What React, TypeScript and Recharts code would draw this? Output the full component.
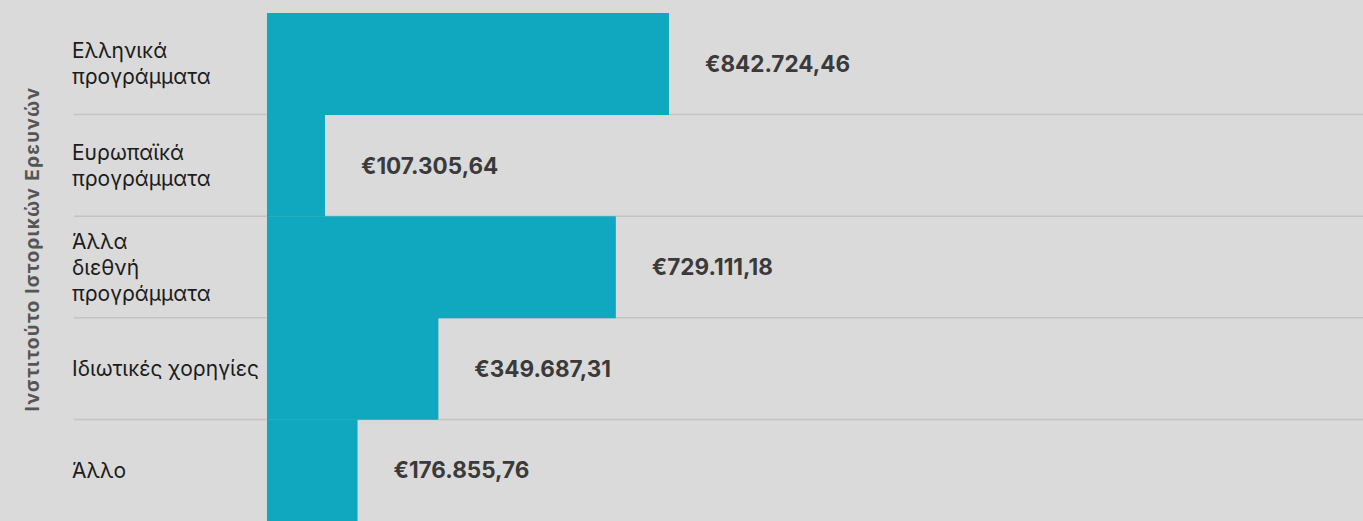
import { Bar, BarChart, CartesianGrid, LabelList, XAxis, YAxis } from "recharts";

const categories = [
  "Ελληνικά\nπρογράμματα",
  "Ευρωπαϊκά\nπρογράμματα",
  "Άλλα\nδιεθνή\nπρογράμματα",
  "Ιδιωτικές χορηγίες",
  "Άλλο",
];
const amounts = [842724.46, 107305.64, 729111.18, 349687.31, 176855.76];

const title = "Ινστιτούτο Ιστορικών Ερευνών";

// x scale: left edge of the row area and the (slightly negative) base the bars grow from
const X_DOMAIN: [number, number] = [-429280, 2326400];
const BAR_BASE = -16675;

const FONT = "Inter, 'Noto Sans', sans-serif";

const data = categories.map((name, i) => ({ name, value: amounts[i] }));

function euro(v: number) {
  const [int, dec] = v.toFixed(2).split(".");
  return "€" + int.replace(/\B(?=(\d{3})+(?!\d))/g, ".") + "," + dec;
}

function CategoryTick(props: any) {
  const { y, payload } = props;
  const x = 72;
  const lines = String(payload.value).split("\n");
  const lh = 26;
  const start = y - ((lines.length - 1) * lh) / 2;
  return (
    <text fontSize={21} fill="#1c1c1c" fontFamily={FONT}>
      {lines.map((l, i) => (
        <tspan key={i} x={x} y={start + i * lh} dominantBaseline="central">
          {l}
        </tspan>
      ))}
    </text>
  );
}

// separators sit on the band edges between rows
const rowEdges = ({ yAxis, offset }: any) => {
  if (yAxis && typeof yAxis.scale === "function") {
    return categories.slice(1).map((c) => yAxis.scale(c));
  }
  const band = offset.height / categories.length;
  return categories.slice(1).map((_, i) => offset.top + band * (i + 1));
};

export default function App() {
  return (
    <div
      style={{
        position: "absolute",
        left: 0,
        top: 0,
        width: 1363,
        height: 521,
        background: "#dadada",
        overflow: "hidden",
        fontFamily: FONT,
      }}
    >
      <div
        style={{
          position: "absolute",
          left: 32,
          top: 249,
          transform: "translate(-50%, -50%) rotate(-90deg)",
          whiteSpace: "nowrap",
          fontSize: 19,
          fontWeight: 700,
          letterSpacing: 1.3,
          color: "#555555",
        }}
      >
        {title}
      </div>
      <BarChart
        width={1363}
        height={521}
        data={data}
        layout="vertical"
        margin={{ top: 13, right: 0, bottom: 0, left: 73 }}
        barCategoryGap={0}
        style={{ position: "absolute", left: 0, top: 0 }}
      >
        <CartesianGrid
          vertical={false}
          horizontalCoordinatesGenerator={rowEdges}
          stroke="#c4c4c4"
          strokeWidth={1.5}
        />
        <XAxis type="number" domain={X_DOMAIN} allowDataOverflow hide />
        <YAxis
          type="category"
          dataKey="name"
          width={1}
          tickLine={false}
          axisLine={false}
          tick={<CategoryTick />}
          interval={0}
        />
        <Bar
          dataKey={(d: any) => [BAR_BASE, d.value]}
          fill="#10a8be"
          isAnimationActive={false}
        >
          <LabelList
            dataKey="value"
            position="right"
            offset={36}
            formatter={(v: any) => euro(Number(v))}
            fill="#3a3a3a"
            fontSize={22.5}
            fontWeight={700}
            fontFamily={FONT}
          />
        </Bar>
      </BarChart>
    </div>
  );
}
